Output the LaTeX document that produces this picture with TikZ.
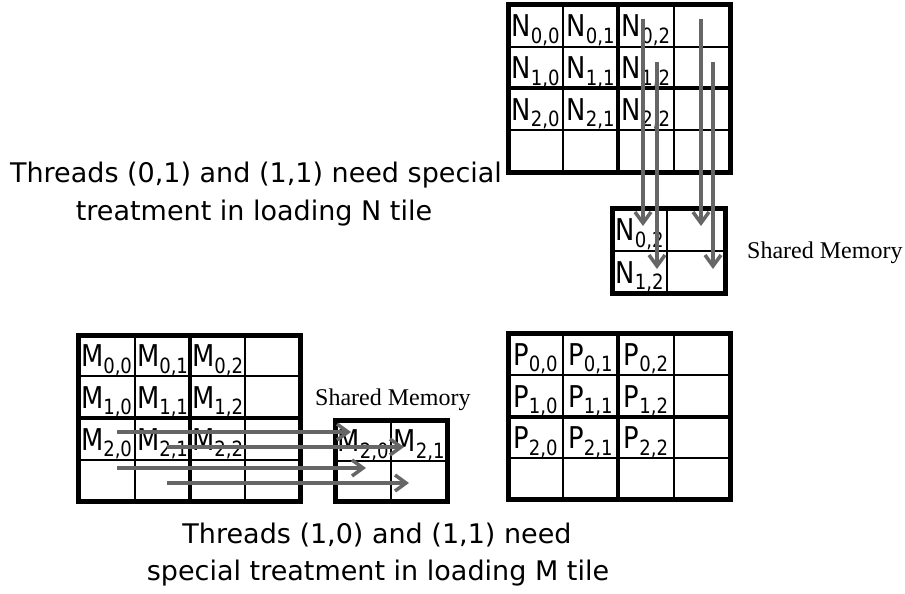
\documentclass[tikz,border=0pt]{standalone}
\usepackage{fontspec}
\usepackage{graphicx}
\setmainfont{DejaVu Sans}
\newfontfamily\memfont{Liberation Serif}
\usetikzlibrary{arrows.meta}
\definecolor{arrowgray}{gray}{0.40}
\newcommand\cellsub[2]{\scalebox{0.86}[1]{#1\raisebox{-6.5pt}{\fontsize{21}{21}\selectfont #2}}}
\tikzset{
  thin grid/.style={line width=1.8pt},
  tile line/.style={line width=3.8pt},
  outer box/.style={line width=5pt},
  cell label/.style={anchor=base, inner sep=0pt, font=\fontsize{30}{30}\selectfont},
  caption/.style={anchor=base, inner sep=0pt, font=\fontsize{27}{27}\selectfont},
  mem label/.style={anchor=base west, inner sep=0pt, font=\memfont\fontsize{24}{24}\selectfont},
  load arrow/.style={draw=arrowgray, line width=3.5pt, -{Straight Barb[length=11pt,width=16pt]}},
}
\begin{document}
\begin{tikzpicture}[x=1pt,y=-1pt]
\useasboundingbox[fill=white] (0,0) rectangle (905,594);

% ---------- N matrix ----------
\foreach \x in {563,674} \draw[thin grid] (\x,5) -- (\x,172);
\foreach \y in {47,130} \draw[thin grid] (508,\y) -- (730,\y);
\draw[tile line] (618,5) -- (618,172);
\draw[tile line] (508,88) -- (730,88);
\draw[outer box] (508,5) rectangle (730,172);
\foreach \r/\cy in {0/26,1/67.5,2/109}
  \foreach \c/\cx in {0/535.5,1/590.5,2/646}
    \node[cell label] (N\r\c) at (\cx,\cy+11) {\cellsub{N}{\r,\c}};

% ---------- N shared memory ----------
\draw[thin grid] (667,208) -- (667,293);
\draw[thin grid] (612,251) -- (725,251);
\draw[outer box] (612,208) rectangle (725,293);
\node[cell label] (Ns02) at (639.5,240.5) {\cellsub{N}{0,2}};
\node[cell label] (Ns12) at (639.5,283) {\cellsub{N}{1,2}};
\node[mem label] (memN) at (747,258) {Shared Memory};

% ---------- P matrix ----------
\foreach \x in {563,674} \draw[thin grid] (\x,333) -- (\x,499);
\foreach \y in {375,458} \draw[thin grid] (508,\y) -- (730,\y);
\draw[tile line] (618,333) -- (618,499);
\draw[tile line] (508,417) -- (730,417);
\draw[outer box] (508,333) rectangle (730,499);
\foreach \r/\cy in {0/354,1/396,2/437.5}
  \foreach \c/\cx in {0/535.5,1/590.5,2/646}
    \node[cell label] (P\r\c) at (\cx,\cy+11) {\cellsub{P}{\r,\c}};

% ---------- M matrix ----------
\foreach \x in {135,245} \draw[thin grid] (\x,335) -- (\x,501);
\foreach \y in {376,460} \draw[thin grid] (78,\y) -- (300,\y);
\draw[tile line] (190,335) -- (190,501);
\draw[tile line] (78,418) -- (300,418);
\draw[outer box] (78,335) rectangle (300,501);
\foreach \r/\cy in {0/355.5,1/397,2/439}
  \foreach \c/\cx in {0/106.5,1/162.5,2/217.5}
    \node[cell label] (M\r\c) at (\cx,\cy+11) {\cellsub{M}{\r,\c}};

% ---------- M shared memory ----------
\draw[thin grid] (391,420) -- (391,501);
\draw[thin grid] (335,461) -- (447,461);
\draw[outer box] (335,420) rectangle (447,501);
\node[cell label] (Ms20) at (363,451.5) {\cellsub{M}{2,0}};
\node[cell label] (Ms21) at (419,451.5) {\cellsub{M}{2,1}};
\node[mem label] (memM) at (315,405) {Shared Memory};

% ---------- captions ----------
\node[caption] (capN1) at (256,182) {Threads (0,1) and (1,1) need special};
\node[caption] (capN2) at (254,220) {treatment in loading N tile};
\node[caption] (capM1) at (377,543) {Threads (1,0) and (1,1) need};
\node[caption] (capM2) at (378,580) {special treatment in loading M tile};

% ---------- N loading arrows ----------
\coordinate (nS1) at (643,19);  \coordinate (nE1) at (643,226);
\coordinate (nS2) at (657,62);  \coordinate (nE2) at (657,269);
\coordinate (nS3) at (701,19);  \coordinate (nE3) at (701,226);
\coordinate (nS4) at (713,62);  \coordinate (nE4) at (713,269);
\foreach \i in {1,2,3,4} \draw[load arrow] (nS\i) -- (nE\i);

% ---------- M loading arrows ----------
\coordinate (mS1) at (117,432); \coordinate (mE1) at (351,432);
\coordinate (mS2) at (167,447); \coordinate (mE2) at (404,447);
\coordinate (mS3) at (117,468); \coordinate (mE3) at (366,468);
\coordinate (mS4) at (167,483); \coordinate (mE4) at (409,483);
\foreach \i in {1,2,3,4} \draw[load arrow] (mS\i) -- (mE\i);
\end{tikzpicture}
\end{document}
